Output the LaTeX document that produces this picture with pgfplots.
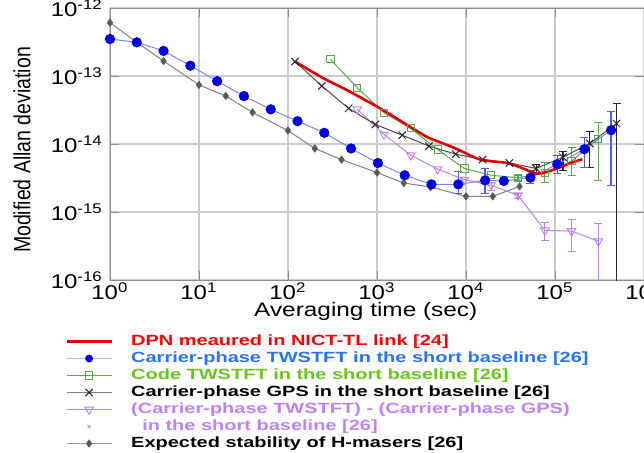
\documentclass[border=0pt]{standalone}
\usepackage{fontspec}
\setmainfont{Liberation Sans}
\usepackage{graphicx}
\usepackage{pgfplots}
\pgfplotsset{compat=1.18}
\newcommand{\sx}[1]{\scalebox{1.2}[1]{#1}}
\newcommand{\lx}[1]{\scalebox{1.35}[1]{#1}}
\definecolor{cred}{rgb}{0.9,0,0}
\definecolor{bmark}{rgb}{0,0,0.9}
\definecolor{bline}{rgb}{0.5,0.5,1}
\definecolor{gline}{rgb}{0.35,0.65,0.3}
\definecolor{kline}{rgb}{0.3,0.3,0.3}
\definecolor{pline}{rgb}{0.75,0.5,0.95}
\definecolor{hline}{rgb}{0.5,0.5,0.5}
\definecolor{hmark}{rgb}{0.35,0.35,0.35}
\definecolor{tred}{rgb}{1,0,0}
\definecolor{tblue}{rgb}{0.15,0.45,1}
\definecolor{tgreen}{rgb}{0.4,0.78,0.1}
\definecolor{tpurp}{rgb}{0.75,0.5,1}
\pgfplotsset{
 sred/.style={color=cred, line width=1.3pt, no marks},
 sblue/.style={color=bline, line width=0.5pt, mark=*, mark size=2.3pt, mark options={draw=bmark, fill=bmark}},
 sgreen/.style={color=gline, line width=0.5pt, mark=square, mark size=1.8pt, mark options={solid, draw=gline}},
 sblack/.style={color=kline, line width=0.5pt, mark=x, mark size=2.6pt, mark options={draw=black!85}},
 spurp/.style={color=pline, line width=0.5pt, mark=triangle, mark size=2.4pt, mark options={rotate=180, draw=pline, fill=white}},
 sgray/.style={color=hline, line width=0.5pt, mark=diamond*, mark size=1.7pt, mark options={draw=hmark, fill=hmark}},
 serr/.style={only marks, mark=text, text mark={}, forget plot, error bars/.cd, y dir=both, y explicit, error bar style={line width=0.6pt}},
}
\begin{document}
\begin{tikzpicture}
\path[use as bounding box] (-55pt,-86pt) rectangle (267pt,140pt);
\begin{axis}[
  at={(0,0)}, anchor=south west,
  scale only axis, width=267pt, height=136pt,
  xmode=log, ymode=log, log basis x=10, log basis y=10,
  xmin=1, xmax=1e6, ymin=1e-16, ymax=1e-12,
  xtick={1,10,100,1000,10000,100000,1000000},
  ytick={1e-16,1e-15,1e-14,1e-13,1e-12},
  grid=major, major grid style={black!20, line width=0.6pt},
  axis line style={black!45},
  tick style={black!45},
  xticklabel={\sx{10\textsuperscript{\pgfmathparse{int(round(\tick))}\pgfmathresult}}},
  yticklabel={\sx{10\textsuperscript{\pgfmathparse{int(round(\tick))}\pgfmathresult}}},
  tick label style={font=\fontsize{10}{12}\selectfont, text=black},
  xticklabel style={yshift=2.3pt},
  yticklabel style={yshift=0pt},
  xlabel={\scalebox{1.25}[1]{Averaging time (sec)}},
  ylabel={\scalebox{1}[1.2]{Modified Allan deviation}},
  label style={font=\fontsize{9.75}{12}\selectfont},
  xlabel style={at={(axis description cs:0.479,-0.114)}, anchor=center},
  ylabel style={at={(axis description cs:-0.165,0.478)}, anchor=center},
  legend style={at={(axis description cs:0,0)}, anchor=north west, xshift=-22.5pt, yshift=-26.5pt,
    draw=none, fill=none, inner sep=0pt, outer sep=0pt, row sep=0pt, column sep=9pt,
    font=\bfseries\fontsize{7.4}{8.5}\selectfont,
    nodes={inner sep=0pt, text height=6pt, text depth=2.5pt}},
  legend cell align=left,
  legend image code/.code={\draw[mark repeat=2,mark phase=2,#1] plot coordinates {(0pt,0pt) (11.25pt,0pt) (22.5pt,0pt)};},
]
% legend
\addlegendimage{sred, line width=1.6pt}
\addlegendentry{\lx{\textcolor{tred}{DPN meaured in NICT-TL link [24]}}}
\addlegendimage{sblue, color=bline!60, mark size=1.7pt}
\addlegendentry{\lx{\textcolor{tblue}{Carrier-phase TWSTFT in the short baseline [26]}}}
\addlegendimage{sgreen}
\addlegendentry{\lx{\textcolor{tgreen}{Code TWSTFT in the short baseline [26]}}}
\addlegendimage{sblack, color=black!50}
\addlegendentry{\lx{Carrier-phase GPS in the short baseline [26]}}
\addlegendimage{spurp}
\addlegendentry{\lx{\textcolor{tpurp}{(Carrier-phase TWSTFT) - (Carrier-phase GPS)}}}
\addlegendimage{only marks, mark=triangle, mark size=0.7pt, mark options={rotate=180, draw=pline}}
\addlegendentry{\lx{\textcolor{tpurp}{\ \ in the short baseline [26]}}}
\addlegendimage{sgray, color=black!40}
\addlegendentry{\lx{Expected stability of H-masers [26]}}

% H-masers
\addplot[sgray, forget plot] coordinates {(1,6.1e-13)(2,3.13e-13)(4,1.66e-13)(10,7.4e-14)(20,5.1e-14)(40,2.91e-14)(100,1.58e-14)(200,8.6e-15)(400,5.9e-15)(1000,3.8e-15)(2000,2.67e-15)(4000,2.33e-15)(10000,1.7e-15)(20000,1.7e-15)(40000,2.38e-15)};

% purple
\addplot[color=pline, serr] coordinates {
 (19200,2.47e-15) += (0,0.28e-15) -= (0,0.37e-15)
 (38400,1.76e-15) += (0,0.14e-15) -= (0,0.16e-15)
 (76800,5.37e-16) += (0,1.73e-16) -= (0,1.57e-16)
 (153600,5.25e-16) += (0,2.45e-16) -= (0,2.6e-16)
 (307200,3.72e-16) += (0,3.13e-16) -= (0,3.62e-16)};
\addplot[spurp, forget plot] coordinates {(600,3.24e-14)(1200,1.38e-14)(2400,6.84e-15)(4800,4.27e-15)(9600,2.99e-15)(19200,2.47e-15)(38400,1.76e-15)(76800,5.37e-16)(153600,5.25e-16)(307200,3.72e-16)};

% green
\addplot[color=gline, serr] coordinates {
 (38400,3.2e-15) += (0,0.3e-15) -= (0,0.3e-15)
 (76800,3.7e-15) += (0,1.65e-15) -= (0,0.93e-15)
 (153600,5.6e-15) += (0,3.4e-15) -= (0,2.13e-15)
 (307200,1.2e-14) += (0,0.87e-14) -= (0,0.907e-14)};
\addplot[sgreen, forget plot] coordinates {(300,1.76e-13)(600,6.73e-14)(1200,2.88e-14)(2400,1.7e-14)(4800,8.3e-15)(9600,4.37e-15)(19200,3.47e-15)(38400,3.2e-15)(76800,3.7e-15)(153600,5.6e-15)(307200,1.2e-14)};

% black GPS
\addplot[color=black!85, serr] coordinates {
 (61440,4.37e-15) += (0,0.73e-15) -= (0,0.77e-15)
 (122880,6.4e-15) += (0,1.3e-15) -= (0,2.3e-15)
 (245760,1.02e-14) += (0,0.49e-14) -= (0,0.56e-14)
 (491520,2.0e-14) += (0,2.0e-14) -= (0,1.999e-14)};
\addplot[sblack, forget plot] coordinates {(120,1.63e-13)(240,7.13e-14)(480,3.34e-14)(960,1.94e-14)(1920,1.35e-14)(3840,9.3e-15)(7680,7.1e-15)(15360,5.9e-15)(30720,5.27e-15)(61440,4.37e-15)(122880,6.4e-15)(245760,1.02e-14)(491520,2.0e-14)};

% blue
\addplot[color=bmark!65, serr] coordinates {
 (8192,2.55e-15) += (0,1.35e-15) -= (0,0.65e-15)
 (16384,2.92e-15) += (0,1.44e-15) -= (0,1.02e-15)
 (53000,3.2e-15) += (0,0.87e-15) -= (0,0.57e-15)
 (106000,5.03e-15) += (0,1.77e-15) -= (0,1.36e-15)
 (214000,8.4e-15) += (0,4.3e-15) -= (0,3.8e-15)
 (427000,1.6e-14) += (0,1.37e-14) -= (0,1.353e-14)};
\addplot[sblue, forget plot] coordinates {(1,3.5e-13)(2,3.13e-13)(4,2.34e-13)(8,1.42e-13)(16,8.4e-14)(32,5.07e-14)(64,3.24e-14)(128,2.17e-14)(256,1.46e-14)(512,8.6e-15)(1024,5.26e-15)(2048,3.47e-15)(4096,2.55e-15)(8192,2.55e-15)(16384,2.92e-15)(26600,2.86e-15)(53000,3.2e-15)(106000,5.03e-15)(214000,8.4e-15)(427000,1.6e-14)};

% red DPN
\addplot[sred, smooth, tension=0.4, forget plot] coordinates {(120,1.63e-13)(251,9.25e-14)(459,6.22e-14)(1089,3.34e-14)(2173,1.91e-14)(3648,1.27e-14)(5152,1.06e-14)(7943,8.41e-15)(14521,5.9e-15)(28973,5.25e-15)(44566,4.34e-15)(60256,3.67e-15)(81658,3.89e-15)(115345,4.59e-15)(162930,5.45e-15)(202300,5.97e-15)};
\end{axis}
\end{tikzpicture}
\end{document}
